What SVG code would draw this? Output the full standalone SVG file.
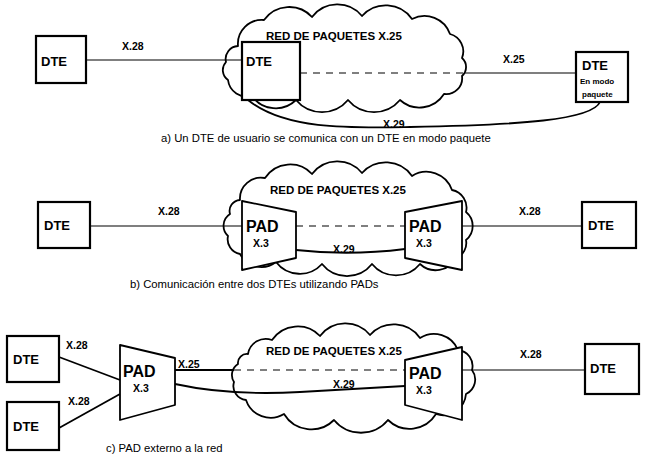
<svg xmlns="http://www.w3.org/2000/svg" width="648" height="459" viewBox="0 0 648 459">
<style>
.bg{fill:#fff}
.box{fill:#fff;stroke:#000;stroke-width:2.2}
.pad{fill:#fff;stroke:#000;stroke-width:1.8;stroke-linejoin:round}
.cloud{fill:#fff;stroke:#000;stroke-width:1.8;stroke-linejoin:round}
.ln{fill:none;stroke:#000;stroke-width:1.2}
.thk{fill:none;stroke:#000;stroke-width:1.8}
.dash{fill:none;stroke:#000;stroke-width:1.2;stroke-dasharray:7 6}
.t{font-family:"Liberation Sans",Arial,sans-serif;font-weight:bold;fill:#000}
.dte{font-size:13px}
.padt{font-size:16px}
.lbl{font-size:10.5px}
.net{font-size:11.5px}
.cap{font-family:"Liberation Sans",Arial,sans-serif;font-size:11.3px;fill:#000}
</style>
<rect class="bg" x="0" y="0" width="648" height="459"/>

<!-- clouds -->
<g id="cloud-a">
<path class="cloud" d="M 238,46 A 24 24 0 0 1 264,20 A 31 31 0 0 1 312,17 A 32 32 0 0 1 362,16 A 32 32 0 0 1 412,19 A 27 27 0 0 1 450,34 A 18 18 0 0 1 462,58 A 12 12 0 0 1 462,76 A 16 16 0 0 1 444,94 A 29 29 0 0 1 400,100 A 34 34 0 0 1 348,100 A 34 34 0 0 1 296,100 A 29 29 0 0 1 252,96 A 19 19 0 0 1 228,80 A 12 12 0 0 1 226,62 A 13 13 0 0 1 238,46 Z"/>
<text class="t net" x="266" y="40">RED DE PAQUETES X.25</text>
</g>
<g id="cloud-b">
<path class="cloud" d="M 240,200 A 21 21 0 0 1 265,178 A 30 30 0 0 1 312,174 A 32 32 0 0 1 362,173 A 32 32 0 0 1 412,176 A 27 27 0 0 1 452,190 A 18 18 0 0 1 466,212 A 18 18 0 0 1 466,240 A 16 16 0 0 1 456,258 A 23 23 0 0 1 420,264 A 31 31 0 0 1 372,264 A 32 32 0 0 1 322,264 A 30 30 0 0 1 276,262 A 24 24 0 0 1 240,254 A 15 15 0 0 1 228,236 A 14 14 0 0 1 230,214 A 11 11 0 0 1 240,200 Z"/>
<text class="t net" x="270" y="194">RED DE PAQUETES X.25</text>
</g>
<g id="cloud-c">
<path class="cloud" d="M 248,354 A 18 18 0 0 1 272,340 A 31 31 0 0 1 320,336 A 32 32 0 0 1 370,335 A 32 32 0 0 1 420,338 A 26 26 0 0 1 458,350 A 16 16 0 0 1 472,370 A 16 16 0 0 1 466,394 A 23 23 0 0 1 436,414 A 31 31 0 0 1 388,420 A 35 35 0 0 1 334,420 A 32 32 0 0 1 284,414 A 26 26 0 0 1 246,400 A 14 14 0 0 1 234,382 A 13 13 0 0 1 238,364 A 9 9 0 0 1 248,354 Z"/>
<text class="t net" x="266" y="355">RED DE PAQUETES X.25</text>
</g>

<!-- connectors -->
<g id="connectors">
<!-- a -->
<line class="ln" x1="86" y1="60" x2="242" y2="60"/>
<line class="dash" x1="300" y1="73" x2="465" y2="73"/>
<line class="ln" x1="465" y1="73" x2="576" y2="73"/>
<path class="thk" d="M 248,100 C 285,130 350,128 410,127 C 520,125 592,120 600,102"/>
<!-- b -->
<line class="ln" x1="90" y1="226" x2="242" y2="226"/>
<line class="dash" x1="296" y1="226" x2="405" y2="226"/>
<path class="thk" d="M 296,250 Q 350,256 405,249"/>
<line class="ln" x1="462" y1="226" x2="582" y2="226"/>
<!-- c -->
<line class="thk" x1="59" y1="357" x2="120" y2="380"/>
<line class="thk" x1="59" y1="428" x2="120" y2="394"/>
<line class="thk" x1="175" y1="370" x2="234" y2="370"/>
<line class="dash" x1="234" y1="370" x2="405" y2="370"/>
<path class="thk" d="M 175,384 Q 230,396 300,392 L 405,386"/>
<line class="ln" x1="462" y1="370" x2="585" y2="370"/>
</g>

<!-- connector labels -->
<g id="labels">
<text class="t lbl" x="122" y="50">X.28</text>
<text class="t lbl" x="503" y="63">X.25</text>
<text class="t lbl" x="383" y="128">X.29</text>
<text class="t lbl" x="158" y="215">X.28</text>
<text class="t lbl" x="333" y="253">X.29</text>
<text class="t lbl" x="519" y="215">X.28</text>
<text class="t lbl" x="66" y="349">X.28</text>
<text class="t lbl" x="68" y="405">X.28</text>
<text class="t lbl" x="178" y="368">X.25</text>
<text class="t lbl" x="333" y="388">X.29</text>
<text class="t lbl" x="520" y="358">X.28</text>
</g>

<!-- nodes: section a -->
<g id="dte-a1"><rect class="box" x="36" y="36" width="50" height="47"/><text class="t dte" x="41" y="66">DTE</text></g>
<g id="dte-a2"><rect class="box" x="242" y="42" width="58" height="58"/><text class="t dte" x="246" y="66">DTE</text></g>
<g id="dte-a3"><rect class="box" x="576" y="52" width="52" height="50"/><text class="t dte" x="582" y="70">DTE</text><text class="t" font-size="8" x="580" y="84">En modo</text><text class="t" font-size="8" x="582" y="97">paquete</text></g>
<text class="cap" x="161" y="142">a) Un DTE de usuario se comunica con un DTE en modo paquete</text>

<!-- nodes: section b -->
<g id="dte-b1"><rect class="box" x="38" y="202" width="52" height="46"/><text class="t dte" x="44" y="230">DTE</text></g>
<g id="pad-b1"><polygon class="pad" points="242,201 296,212 296,258 242,270"/><text class="t padt" x="246" y="232">PAD</text><text class="t lbl" x="253" y="247">X.3</text></g>
<g id="pad-b2"><polygon class="pad" points="405,212 462,201 462,270 405,258"/><text class="t padt" x="409" y="232">PAD</text><text class="t lbl" x="416" y="247">X.3</text></g>
<g id="dte-b2"><rect class="box" x="582" y="202" width="54" height="46"/><text class="t dte" x="588" y="230">DTE</text></g>
<text class="cap" x="130" y="288">b) Comunicación entre dos DTEs utilizando PADs</text>

<!-- nodes: section c -->
<g id="dte-c1"><rect class="box" x="7" y="336" width="52" height="46"/><text class="t dte" x="13" y="364">DTE</text></g>
<g id="dte-c2"><rect class="box" x="7" y="402" width="52" height="48"/><text class="t dte" x="13" y="431">DTE</text></g>
<g id="pad-c1"><polygon class="pad" points="120,345 175,358 175,405 120,420"/><text class="t padt" x="123" y="377">PAD</text><text class="t lbl" x="133" y="392">X.3</text></g>
<g id="pad-c2"><polygon class="pad" points="405,360 462,347 462,420 405,405"/><text class="t padt" x="409" y="379">PAD</text><text class="t lbl" x="416" y="394">X.3</text></g>
<g id="dte-c3"><rect class="box" x="585" y="344" width="54" height="50"/><text class="t dte" x="590" y="373">DTE</text></g>
<text class="cap" x="106" y="452">c) PAD externo a la red</text>
</svg>
